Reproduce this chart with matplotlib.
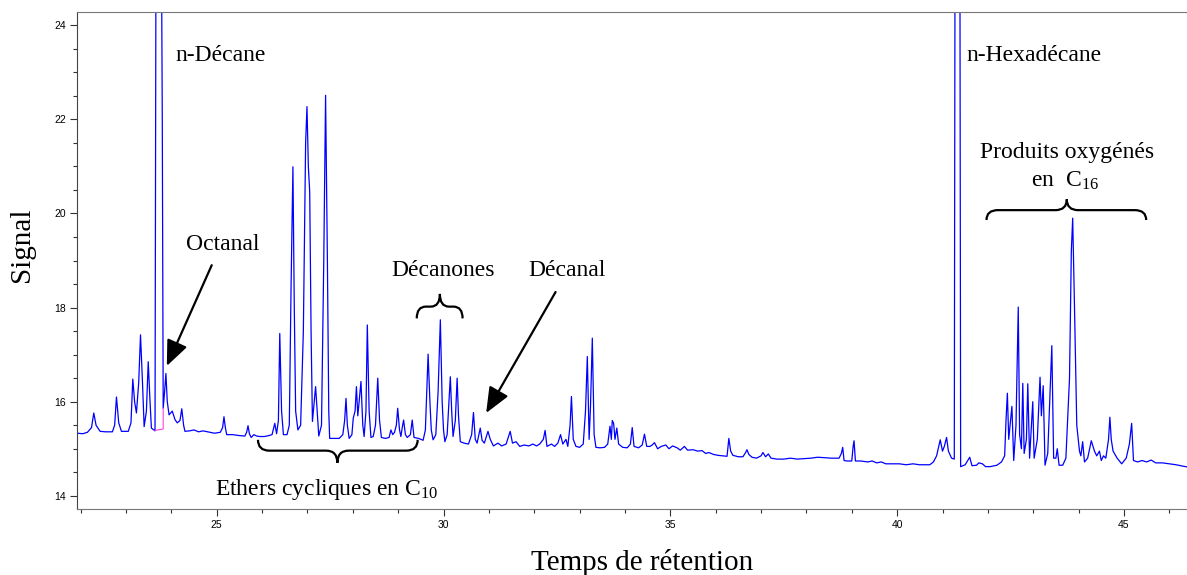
import matplotlib.pyplot as plt
from matplotlib.path import Path
from matplotlib.patches import PathPatch

plt.rcParams['font.family'] = ['Liberation Serif', 'DejaVu Serif']
plt.rcParams['mathtext.default'] = 'regular'

# chromatogramme (temps en min, signal)
temps = [21.92, 22.05, 22.15, 22.24, 22.29, 22.34, 22.43, 22.55, 22.70, 22.75, 22.79, 22.84, 22.90,
         23.05, 23.11, 23.15, 23.19, 23.23, 23.28, 23.32, 23.36, 23.40, 23.45, 23.49, 23.53, 23.56,
         23.64, 23.67, 23.72, 23.76, 23.80, 23.82, 23.85, 23.88, 23.91, 23.95, 24.02, 24.08, 24.13,
         24.19, 24.23, 24.27, 24.30, 24.40, 24.50, 24.60, 24.70, 24.80, 24.95, 25.08, 25.13, 25.16,
         25.19, 25.22, 25.35, 25.50, 25.62, 25.66, 25.69, 25.72, 25.76, 25.82, 25.88, 25.95,
         26.05, 26.15, 26.22, 26.28, 26.32, 26.36, 26.39, 26.43, 26.47, 26.55, 26.60, 26.64, 26.68,
         26.71, 26.74, 26.79, 26.85, 26.91, 26.96, 26.99, 27.02, 27.05, 27.08, 27.11, 27.15, 27.18,
         27.22, 27.25, 27.31, 27.36, 27.40, 27.44, 27.47, 27.49, 27.60, 27.70, 27.78, 27.82, 27.85,
         27.88, 27.92, 27.98, 28.01, 28.05, 28.08, 28.11, 28.13, 28.18, 28.22, 28.25, 28.29, 28.32,
         28.36, 28.40, 28.45, 28.50, 28.55, 28.59, 28.63, 28.72, 28.80, 28.84, 28.88, 28.92, 28.96,
         28.99, 29.03, 29.06, 29.09, 29.12, 29.16, 29.20, 29.27, 29.31, 29.35, 29.45, 29.55, 29.60,
         29.63, 29.66, 29.70, 29.73, 29.77, 29.83, 29.88, 29.93, 29.97, 30.00, 30.03, 30.08, 30.12,
         30.15, 30.18, 30.21, 30.26, 30.30, 30.33, 30.37, 30.45, 30.55, 30.62, 30.66, 30.70, 30.74,
         30.78, 30.81, 30.85, 30.90, 30.98, 31.03, 31.10, 31.20, 31.28, 31.38, 31.47, 31.52, 31.60,
         31.68, 31.78, 31.88, 31.97, 32.05, 32.12, 32.20, 32.24, 32.28, 32.38, 32.45, 32.52, 32.58,
         32.63, 32.70, 32.74, 32.79, 32.82, 32.86, 32.92, 33.00, 33.08, 33.13, 33.17, 33.21, 33.24,
         33.28, 33.32, 33.36, 33.45, 33.55, 33.62, 33.67, 33.70, 33.72, 33.75, 33.78, 33.82, 33.86,
         33.95, 34.05, 34.12, 34.16, 34.20, 34.30, 34.38, 34.43, 34.48, 34.55, 34.60, 34.65, 34.72,
         34.80, 34.90, 34.97, 35.05, 35.15, 35.22, 35.31, 35.38, 35.50, 35.60, 35.70, 35.78, 35.85,
         35.95, 36.05, 36.15, 36.25, 36.29, 36.33, 36.38, 36.50, 36.60, 36.66, 36.69, 36.73, 36.80,
         36.90, 37.00, 37.04, 37.10, 37.16, 37.22, 37.35, 37.50, 37.65, 37.80, 37.95, 38.10, 38.25,
         38.40, 38.55, 38.72, 38.77, 38.80, 38.83, 38.90, 39.00, 39.03, 39.05, 39.08, 39.20, 39.35,
         39.45, 39.55, 39.65, 39.75, 39.90, 40.05, 40.20, 40.35, 40.49, 40.62, 40.72, 40.80, 40.87,
         40.95, 41.00, 41.04, 41.09, 41.13, 41.20, 41.26, 41.29, 41.33, 41.37, 41.40, 41.50, 41.60,
         41.65, 41.75, 41.80, 41.88, 41.95, 42.05, 42.20, 42.30, 42.37, 42.40, 42.43, 42.46, 42.50,
         42.53, 42.57, 42.62, 42.67, 42.70, 42.74, 42.77, 42.80, 42.85, 42.88, 42.92, 42.96, 42.99,
         43.02, 43.09, 43.15, 43.18, 43.22, 43.26, 43.32, 43.41, 43.45, 43.50, 43.53, 43.57, 43.65,
         43.72, 43.80, 43.84, 43.87, 43.91, 43.96, 44.02, 44.05, 44.09, 44.13, 44.20, 44.28, 44.35,
         44.40, 44.46, 44.50, 44.55, 44.60, 44.66, 44.69, 44.72, 44.76, 44.85, 44.95, 45.05, 45.12,
         45.17, 45.21, 45.30, 45.40, 45.50, 45.60, 45.70, 45.85, 46.00, 46.15, 46.30, 46.42]
signal = [15.33, 15.32, 15.35, 15.45, 15.76, 15.50, 15.37, 15.36, 15.36, 15.50, 16.10, 15.55, 15.37,
          15.37, 15.55, 16.48, 16.00, 15.76, 16.40, 17.42, 16.50, 15.47, 15.80, 16.85, 16.00, 15.44,
          15.38, 30.0, 45.0, 30.0, 22.0, 15.86, 16.20, 16.60, 16.00, 15.72, 15.80, 15.62, 15.55,
          15.60, 15.85, 15.50, 15.37, 15.38, 15.40, 15.36, 15.38, 15.36, 15.33, 15.35, 15.45, 15.68,
          15.45, 15.30, 15.30, 15.28, 15.27, 15.35, 15.49, 15.32, 15.24, 15.30, 15.27, 15.26,
          15.26, 15.28, 15.30, 15.54, 15.32, 15.60, 17.45, 15.80, 15.30, 15.30, 15.50, 18.50, 20.99,
          18.00, 15.80, 15.40, 15.50, 17.50, 21.50, 22.27, 21.00, 20.46, 17.50, 15.58, 16.00, 16.32,
          15.70, 15.27, 15.50, 19.00, 22.51, 19.00, 15.80, 15.22, 15.22, 15.22, 15.30, 15.60, 16.07,
          15.50, 15.22, 15.30, 15.65, 15.80, 16.32, 15.70, 15.90, 16.43, 15.50, 15.26, 15.80, 17.63,
          15.80, 15.24, 15.26, 15.50, 16.50, 15.60, 15.24, 15.22, 15.24, 15.40, 15.30, 15.35, 15.50,
          15.86, 15.40, 15.26, 15.45, 15.61, 15.30, 15.24, 15.30, 15.61, 15.24, 15.22, 15.18, 15.40,
          16.20, 17.01, 16.00, 15.40, 15.19, 15.30, 16.20, 17.74, 16.00, 15.40, 15.15, 15.30, 16.00,
          16.53, 15.80, 15.26, 15.60, 16.50, 15.70, 15.15, 15.12, 15.10, 15.30, 15.77, 15.20, 15.12,
          15.30, 15.44, 15.18, 15.12, 15.37, 15.20, 15.06, 15.12, 15.06, 15.10, 15.37, 15.12, 15.15,
          15.05, 15.08, 15.06, 15.10, 15.06, 15.10, 15.20, 15.39, 15.05, 15.10, 15.05, 15.12, 15.30,
          15.10, 15.20, 15.05, 15.50, 16.11, 15.20, 15.05, 15.03, 15.10, 15.80, 16.96, 15.20, 15.90,
          17.35, 15.30, 15.03, 15.02, 15.03, 15.10, 15.48, 15.20, 15.60, 15.54, 15.20, 15.44, 15.10,
          15.03, 15.02, 15.10, 15.45, 15.05, 15.02, 15.08, 15.31, 15.05, 15.05, 15.08, 15.13, 15.00,
          15.05, 15.08, 15.00, 15.06, 15.02, 14.97, 15.05, 14.97, 14.98, 14.95, 14.96, 14.90, 14.92,
          14.88, 14.86, 14.85, 14.84, 15.22, 14.95, 14.86, 14.83, 14.83, 14.92, 14.98, 14.88, 14.82,
          14.80, 14.85, 14.92, 14.83, 14.89, 14.80, 14.78, 14.78, 14.80, 14.78, 14.79, 14.80, 14.82,
          14.81, 14.80, 14.80, 14.90, 15.03, 14.75, 14.74, 14.74, 15.05, 15.17, 14.74, 14.74, 14.72,
          14.74, 14.70, 14.72, 14.68, 14.68, 14.68, 14.66, 14.68, 14.66, 14.66, 14.66, 14.72, 14.85,
          15.19, 14.95, 15.05, 15.24, 14.95, 14.80, 14.78, 35.0, 45.0, 35.0, 14.62, 14.66, 14.82,
          14.64, 14.65, 14.70, 14.68, 14.62, 14.62, 14.65, 14.72, 14.85, 15.60, 16.18, 15.20, 15.60,
          15.90, 14.75, 15.50, 18.01, 15.30, 15.00, 16.39, 14.90, 15.20, 16.38, 14.80, 15.50, 16.00,
          14.80, 15.20, 16.52, 15.70, 16.34, 14.65, 14.90, 17.19, 14.80, 14.80, 15.00, 14.65, 14.65,
          14.80, 16.50, 19.20, 19.90, 18.00, 15.50, 14.95, 14.85, 15.15, 14.72, 14.80, 15.17, 14.95,
          14.85, 14.95, 14.75, 14.85, 14.80, 15.20, 15.67, 15.20, 14.95, 14.80, 14.68, 14.80, 15.10,
          15.54, 14.75, 14.72, 14.75, 14.72, 14.76, 14.70, 14.70, 14.68, 14.66, 14.63, 14.61]

# petit trait d'integration (magenta) sous le n-decane
integ_t = [23.64, 23.82, 23.82]
integ_s = [15.39, 15.42, 15.86]

fig = plt.figure(figsize=(11.87, 5.75), dpi=100)
ax = fig.add_axes([77 / 1187, 1 - 509 / 575, 1 - 77 / 1187, 497 / 575])

ax.plot(temps, signal, color='#0000ff', lw=0.9)
ax.plot(integ_t, integ_s, color='#ff44dd', lw=0.8)

ax.set_xlim(21.92, 46.39)
ax.set_ylim(13.72, 24.28)
ax.set_xticks([25, 30, 35, 40, 45])
ax.set_xticks(range(22, 47), minor=True)
ax.set_yticks([14, 16, 18, 20, 22, 24])
ax.set_yticks([y / 2 for y in range(28, 49)], minor=True)
ax.tick_params(which='major', length=5, width=0.8, color='#333333', labelsize=7.5, pad=3)
ax.tick_params(which='minor', length=3, width=0.8, color='#333333')
for lab in ax.get_xticklabels() + ax.get_yticklabels():
    lab.set_family('Liberation Sans')
ax.spines['right'].set_visible(False)
ax.spines['top'].set_color('#777777')
ax.spines['bottom'].set_color('#777777')
ax.spines['left'].set_color('#444444')


def accolade(x1, x2, xt, y_bout, y_milieu, y_pointe, r):
    verts = [(x1, y_bout), (x1, y_milieu), (x1 + r, y_milieu),
             (xt - r, y_milieu), (xt, y_milieu), (xt, y_pointe),
             (xt, y_milieu), (xt + r, y_milieu),
             (x2 - r, y_milieu), (x2, y_milieu), (x2, y_bout)]
    codes = [Path.MOVETO, Path.CURVE3, Path.CURVE3,
             Path.LINETO, Path.CURVE3, Path.CURVE3,
             Path.CURVE3, Path.CURVE3,
             Path.LINETO, Path.CURVE3, Path.CURVE3]
    ax.add_patch(PathPatch(Path(verts, codes), fill=False, lw=1.6, color='black'))


accolade(29.41, 30.42, 29.92, 17.77, 18.02, 18.29, 0.2)
accolade(25.91, 29.43, 27.66, 15.19, 14.96, 14.70, 0.25)
accolade(41.97, 45.49, 43.74, 19.86, 20.07, 20.30, 0.25)

fs = 17
ax.text(24.08, 23.36, 'n-Décane', fontsize=fs, ha='left', va='center')
ax.text(41.52, 23.36, 'n-Hexadécane', fontsize=fs, ha='left', va='center')
ax.text(25.14, 19.33, 'Octanal', fontsize=fs, ha='center', va='center')
ax.text(29.98, 18.78, 'Décanones', fontsize=fs, ha='center', va='center')
ax.text(32.73, 18.78, 'Décanal', fontsize=fs, ha='center', va='center')
ax.text(27.43, 14.02, 'Ethers cycliques en C$_{10}$', fontsize=fs, ha='center', va='baseline')
ax.text(43.74, 21.30, 'Produits oxygénés', fontsize=fs, ha='center', va='center')
ax.text(43.70, 20.56, 'en  C$_{16}$', fontsize=fs, ha='center', va='baseline')

fleche = dict(arrowstyle='-|>,head_length=1.3,head_width=0.55', mutation_scale=12,
              color='black', lw=1.6, shrinkA=0, shrinkB=0)
ax.annotate('', xy=(23.90, 16.76), xytext=(24.89, 18.90), arrowprops=fleche)
ax.annotate('', xy=(30.94, 15.76), xytext=(32.47, 18.33), arrowprops=fleche)

fig.text(22 / 1187, 1 - 245 / 575, 'Signal', fontsize=21, rotation=90, ha='center', va='center')
fig.text(642 / 1187, 1 - 562 / 575, 'Temps de rétention', fontsize=21, ha='center', va='center')

fig.savefig('out.png', dpi=100)
